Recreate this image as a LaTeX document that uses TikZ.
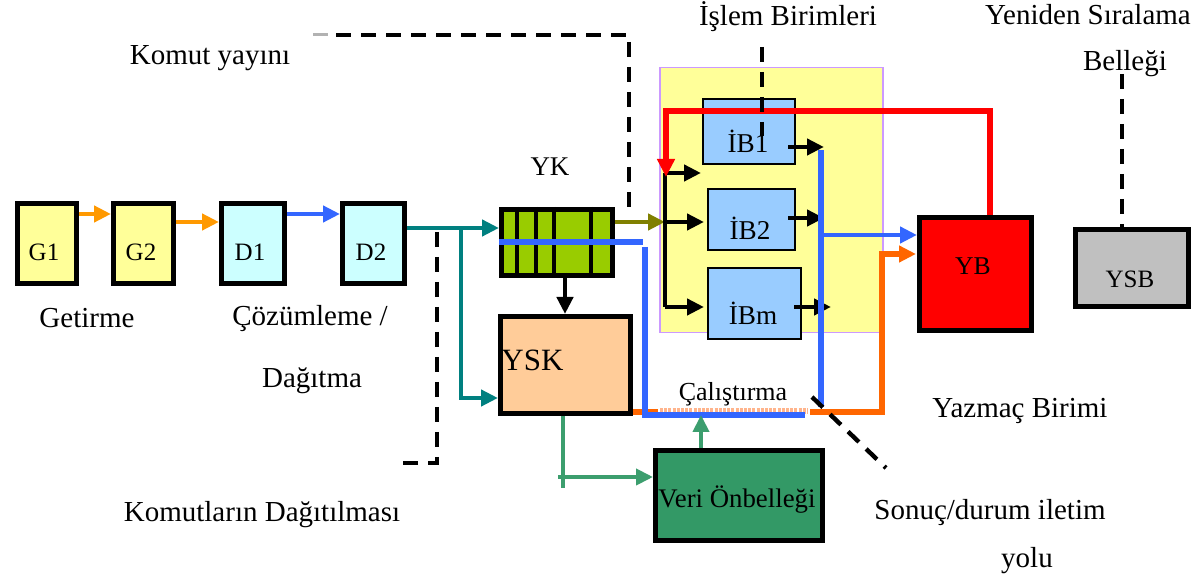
\documentclass[tikz,border=0pt]{standalone}
\usepackage{fontspec}
\setmainfont{Liberation Serif}
\usetikzlibrary{arrows.meta}
\definecolor{cG}{HTML}{FFFF99}
\definecolor{cD}{HTML}{CCFFFF}
\definecolor{cYK}{HTML}{99CC00}
\definecolor{cIB}{HTML}{99CCFF}
\definecolor{cPB}{HTML}{CC99FF}
\definecolor{cYSK}{HTML}{FFCC99}
\definecolor{cYSB}{HTML}{C0C0C0}
\definecolor{cVeri}{HTML}{339966}
\definecolor{cGarr}{HTML}{3C9E6E}
\definecolor{cOrA}{HTML}{FF9900}
\definecolor{cOrB}{HTML}{FF6600}
\definecolor{cBlue}{HTML}{3366FF}
\definecolor{cTeal}{HTML}{008080}
\definecolor{cOlive}{HTML}{808000}
\definecolor{cPeach}{HTML}{FFB48C}
\begin{document}
\begin{tikzpicture}[x=0.5pt,y=-0.5pt,
  box/.style={draw=black,line width=2.4pt,inner sep=0pt,anchor=north west},
  ibbox/.style={draw=black,line width=1pt,fill=cIB,inner sep=0pt,anchor=north west},
  txt/.style={font=\fontsize{14.5}{17}\selectfont,inner sep=0pt,text height=1.5ex,text depth=.25ex},
  blbl/.style={inner sep=0pt,text height=1.5ex,text depth=.25ex},
  ln/.style={line width=2.2pt},
  tip/.style={-{Triangle[length=8.5pt,width=8pt]}},
  arr/.style={line width=2.2pt,tip},
  dsh/.style={line width=2.2pt,dash pattern=on 7.5pt off 5pt},
]
\fill[white] (0,0) rectangle (1191,582);
\useasboundingbox (0,0) rectangle (1191,582);

% panel of execution units
\node[draw=cPB,line width=0.75pt,fill=cG,inner sep=0pt,anchor=north west,
      minimum width=111.5pt,minimum height=132.5pt] (panel) at (659,67) {};
\node[ibbox,minimum width=46pt,minimum height=32.5pt] (ib1) at (702,98) {};
\node[ibbox,minimum width=43.5pt,minimum height=30.5pt] (ib2) at (707,188) {};
\node[ibbox,minimum width=46.5pt,minimum height=35.5pt] (ibm) at (707,267) {};
\node[blbl,font=\fontsize{13.6}{16}\selectfont] (ib1t) at (748,147) {İB1};
\node[blbl,font=\fontsize{13.6}{16}\selectfont] (ib2t) at (750,234) {İB2};
\node[blbl,font=\fontsize{13.6}{16}\selectfont] (ibmt) at (753,319) {İBm};

% front end boxes
\node[box,fill=cG,minimum width=29.5pt,minimum height=40pt] (g1) at (15,201) {};
\node[box,fill=cG,minimum width=30pt,minimum height=40pt] (g2) at (111,201) {};
\node[box,fill=cD,minimum width=31.5pt,minimum height=40pt] (d1) at (219,201) {};
\node[box,fill=cD,minimum width=31pt,minimum height=40pt] (d2) at (340,201) {};
\node[blbl,font=\fontsize{12.5}{15}\selectfont] (g1t) at (44,255) {G1};
\node[blbl,font=\fontsize{12.5}{15}\selectfont] (g2t) at (141,255) {G2};
\node[blbl,font=\fontsize{12.5}{15}\selectfont] (d1t) at (250,255) {D1};
\node[blbl,font=\fontsize{12.5}{15}\selectfont] (d2t) at (371,255) {D2};

% YK buffer
\node[box,fill=cYK,minimum width=55.5pt,minimum height=33pt] (yk) at (499,207) {};
\foreach \xx in {517,536,554,591}{\draw[ln] (\xx,207) -- (\xx,273);}
\node[blbl,font=\fontsize{13.5}{16}\selectfont] (ykt) at (550,170) {YK};

% orange bottom path (under YSK)
\draw[line width=2.6pt,cOrB] (612,412) -- (658,412);
\draw[line width=2.6pt,cPeach,dash pattern=on 1.5pt off 0.6pt] (660,411) -- (808,411);
\draw[line width=2.6pt,cOrB,tip] (810,412) -- (882,412) -- (882,254) -- (916,254);

% YSK
\node[box,fill=cYSK,minimum width=65pt,minimum height=48.5pt] (ysk) at (498,314) {};
\node[blbl,font=\fontsize{15.5}{18}\selectfont,anchor=west] (yskt) at (501,365) {YSK};

% YB, YSB, Veri
\node[box,fill=red,minimum width=56pt,minimum height=56.5pt] (yb) at (917,215) {};
\node[blbl,font=\fontsize{12.8}{15}\selectfont] (ybt) at (973,269) {YB};
\node[box,fill=cYSB,minimum width=56.5pt,minimum height=38.5pt] (ysb) at (1073,227) {};
\node[blbl,font=\fontsize{12.5}{15}\selectfont] (ysbt) at (1130,282) {YSB};
\node[box,fill=cVeri,minimum width=83.5pt,minimum height=45pt] (veri) at (653,448) {};
\node[blbl,font=\fontsize{13.4}{16}\selectfont] (verit) at (737,502) {Veri Önbelleği};

% connectors: front end
\draw[arr,cOrA] (g1.east |- 0,214) -- (g2.west |- 0,214);
\draw[arr,cOrA] (g2.east |- 0,222) -- (d1.west |- 0,222);
\draw[arr,cBlue] (d1.east |- 0,214) -- (d2.west |- 0,214);
\coordinate (br) at (461,228);
\draw[arr,cTeal] (d2.east |- 0,228) -- (yk.west |- 0,228);
\draw[arr,cTeal] (br) -- (461,398) -- (ysk.west |- 0,398);
\coordinate (dl) at (400,463);
\draw[dsh] (437,232) -- (437,463) -- (dl);

% command broadcast dashed line
\coordinate (kd) at (336,35);
\draw[gray!60,line width=1.5pt] (313,35) -- (328,35);
\draw[dsh] (kd) -- (629,35) -- (629,215);

% YK to execution units
\coordinate (busT) at (665,173);
\coordinate (busM) at (665,222);
\coordinate (busB) at (665,307);
\draw[arr,cOlive] (yk.east |- 0,222) -- (busM);
\draw[ln] (busT) -- (busB);
\draw[arr] (busT) -- (701,173);
\draw[arr] (busM) -- (704,222);
\draw[arr] (busB) -- (704,307);

% red path from YB
\draw[line width=2.8pt,red,-{Triangle[length=9pt,width=8.5pt]}] (yb.north -| 990,0) -- (990,111) -- (666,111) -- (666,177);

% dashed from İşlem Birimleri
\draw[dsh] (762,47) -- (762,136);

% outputs of execution units
\draw[arr] (788,147) -- (824,147);
\draw[arr] (788,218) -- (824,218);
\draw[arr] (794,307) -- (831,307);

% blue result bus
\draw[line width=2.6pt,cBlue] (821,150) -- (821,407);
\draw[line width=2.2pt,cBlue,tip] (821,235) -- (yb.west |- 0,235);
\draw[line width=2.6pt,cBlue] (yk.west |- 0,242) -- (643,242);
\draw[line width=2.6pt,cBlue] (645,247) -- (645,415) -- (805,415);

% YK -> YSK
\draw[arr] (565,273) -- (ysk.north -| 565,0);

% YSK -> Veri, Veri -> exec
\draw[line width=2pt,cGarr] (ysk.south -| 563,0) -- (563,488);
\draw[line width=2pt,cGarr,tip] (558,477) -- (veri.west |- 0,477);
\draw[line width=2pt,cGarr,tip] (veri.north -| 701,0) -- (701,415);

% dashed to result path
\coordinate (sd1) at (812,397);
\coordinate (sd2) at (886,468);
\draw[dsh] (sd1) -- (sd2);

% dashed to YSB
\draw[dsh] (1122,74) -- (ysb.north -| 1122,0);

% texts
\node[txt] (t1) at (210,59) {Komut yayını};
\node[txt] (t2) at (788,20) {İşlem Birimleri};
\node[txt] (t3) at (1088,19) {Yeniden Sıralama};
\node[txt] (t4) at (1125,65) {Belleği};
\node[txt] (t5) at (87,322) {Getirme};
\node[txt] (t6) at (310,320) {Çözümleme /};
\node[txt] (t7) at (312,382) {Dağıtma};
\node[blbl,font=\fontsize{13}{16}\selectfont] (t8) at (733,395) {Çalıştırma};
\node[txt] (t9) at (1020,412) {Yazmaç Birimi};
\node[txt] (t10) at (262,516) {Komutların Dağıtılması};
\node[txt] (t11) at (990,514) {Sonuç/durum iletim};
\node[txt] (t12) at (1027,562) {yolu};
\end{tikzpicture}
\end{document}
